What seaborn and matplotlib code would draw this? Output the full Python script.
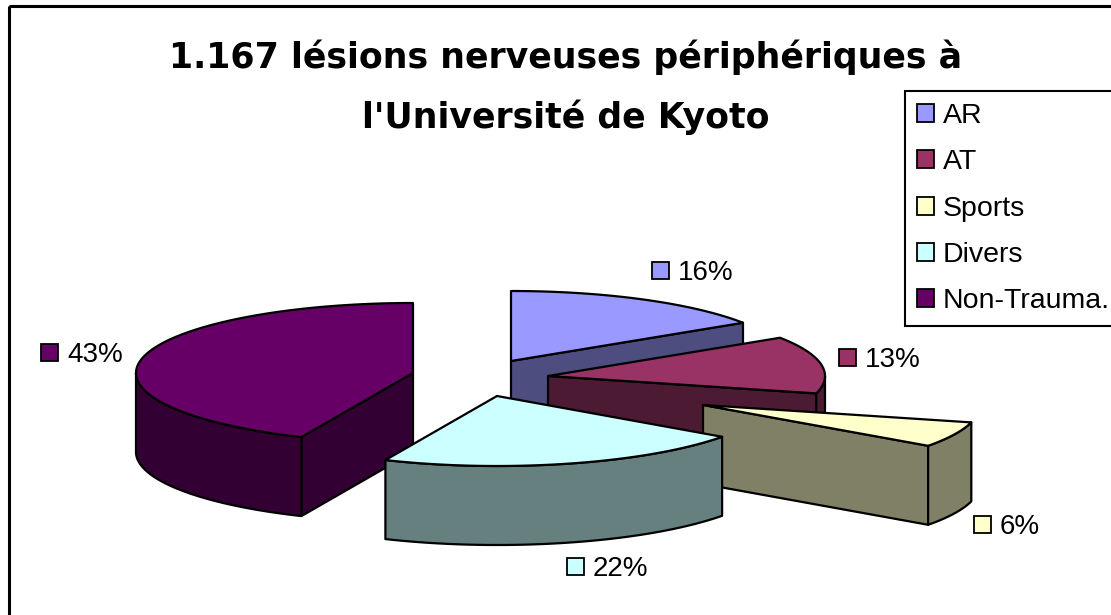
import numpy as np
import matplotlib
matplotlib.use("Agg")
import matplotlib.pyplot as plt
from matplotlib.patches import Patch, Rectangle
import seaborn as sns

categories = ["AR", "AT", "Sports", "Divers", "Non-Trauma."]
percents = [15.8, 13.2, 5.9, 21.7, 43.4]
top_colors = ["#9999FF", "#993366", "#FFFFCC", "#CCFFFF", "#660066"]
title_lines = ["1.167 lésions nerveuses périphériques à", "l'Université de Kyoto"]

# layout: exploded position of each slice apex, label anchor (pixels)
apex_x = [511, 548, 703, 497, 413]
apex_y = [361, 376, 405, 396, 373]
label_x = [652, 839, 974, 567, 41]
label_y = [270, 357, 524, 566, 352]
draw_order = [0, 1, 2, 4, 3]
RX, RY, DEPTH = 277, 70, 79

sns.set_theme(style="white")
plt.rcParams["font.family"] = ["Liberation Sans", "DejaVu Sans"]
palette = sns.color_palette(top_colors)

fig = plt.figure(figsize=(11.11, 6.15), dpi=100, facecolor="white")
ax = fig.add_axes([0, 0, 1, 1])
ax.set_xlim(0, 1111)
ax.set_ylim(615, 0)
ax.axis("off")

# chart frame
ax.add_patch(Rectangle((9, 6), 1200, 700, fill=False, ec="black", lw=2.2, zorder=1))

ends = np.cumsum(percents) / 100 * 2 * np.pi
starts = np.concatenate([[0], ends[:-1]])
EDGE = dict(edgecolor="black", linewidth=1.6, joinstyle="round")


def arc(cx, cy, a0, a1, n=90):
    t = np.linspace(a0, a1, n)
    return cx + RX * np.sin(t), cy - RY * np.cos(t)


for z, i in enumerate(draw_order):
    a0, a1 = starts[i], ends[i]
    cx, cy = apex_x[i], apex_y[i]
    top = palette[i]
    side = tuple(c * 0.5 for c in top)
    zb = 2 + z * 4
    # radial side faces
    if np.sin(a0) < -1e-6:
        px, py = arc(cx, cy, a0, a0, 1)
        ax.fill([cx, px[0], px[0], cx], [cy, py[0], py[0] + DEPTH, cy + DEPTH],
                facecolor=side, zorder=zb, **EDGE)
    if np.sin(a1) > 1e-6:
        px, py = arc(cx, cy, a1, a1, 1)
        ax.fill([cx, px[0], px[0], cx], [cy, py[0], py[0] + DEPTH, cy + DEPTH],
                facecolor=side, zorder=zb, **EDGE)
    # outer rim wall where the rim faces the viewer
    w0, w1 = max(a0, np.pi / 2), min(a1, 3 * np.pi / 2)
    if w1 > w0:
        ax_, ay_ = arc(cx, cy, w0, w1)
        ax.fill(np.r_[ax_, ax_[::-1]], np.r_[ay_, ay_[::-1] + DEPTH],
                facecolor=side, zorder=zb + 1, **EDGE)
    # top surface
    tx, ty = arc(cx, cy, a0, a1)
    ax.fill(np.r_[cx, tx], np.r_[cy, ty], facecolor=top, zorder=zb + 2, **EDGE)

    # data label
    ax.add_patch(Rectangle((label_x[i], label_y[i] - 8.5), 17, 17, facecolor=top,
                           edgecolor="black", linewidth=1.3, zorder=40))
    ax.text(label_x[i] + 26, label_y[i], f"{percents[i]:.0f}%", fontsize=20, color="black",
            va="center_baseline", ha="left", zorder=40)

for k, line in enumerate(title_lines):
    ax.text(566, 57 + 60 * k, line, fontsize=25, fontweight="bold", family="DejaVu Sans",
            ha="center", va="center", color="black", zorder=50)

handles = [Patch(facecolor=c, edgecolor="black", linewidth=1.3) for c in palette]
leg = ax.legend(handles, categories, loc="upper left", bbox_to_anchor=(905 / 1111, 1 - 91 / 615),
                bbox_transform=fig.transFigure, fontsize=20.5, frameon=True, fancybox=False,
                edgecolor="black", framealpha=1, labelspacing=0.71, handlelength=0.6,
                handleheight=0.6, handletextpad=0.3, borderpad=0.43, borderaxespad=0)
leg.get_frame().set_linewidth(1.5)
leg.set_zorder(60)
for txt in leg.get_texts():
    txt.set_color("black")

fig.savefig("out.png", dpi=100, facecolor="white")
